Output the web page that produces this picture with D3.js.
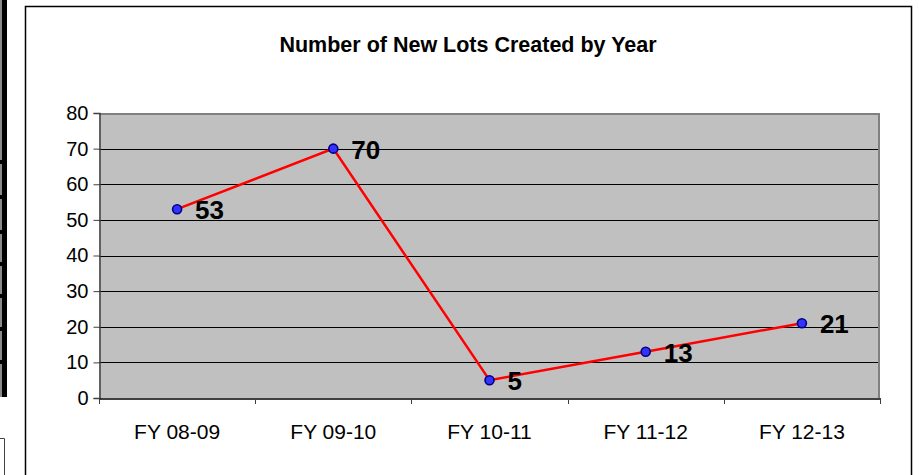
<!DOCTYPE html>
<html>
<head>
<meta charset="utf-8">
<script src="https://cdn.jsdelivr.net/npm/d3@7"></script>
<style>
  body { margin: 0; background: #fff; }
  text { font-family: "Liberation Sans", Arial, sans-serif; }
</style>
</head>
<body>
<div class="chart"></div>
<script>
// chart data
var years = ["FY 08-09", "FY 09-10", "FY 10-11", "FY 11-12", "FY 12-13"];
var lots = [53, 70, 5, 13, 21];
var yTicks = [0, 10, 20, 30, 40, 50, 60, 70, 80];

var svgWidth = 919;
var svgHeight = 475;

// plot area inside the frame
var margin = { top: 113, right: 39, bottom: 77, left: 99 };
var width = svgWidth - margin.left - margin.right;
var height = svgHeight - margin.top - margin.bottom;

var svg = d3.select(".chart")
  .append("svg")
  .attr("width", svgWidth)
  .attr("height", svgHeight);

// leftover page edge on the left
svg.append("rect").attr("x", 0).attr("y", 0).attr("width", 3).attr("height", 397).attr("fill", "#8a8a8a");
svg.append("rect").attr("x", 2).attr("y", 0).attr("width", 5).attr("height", 397).attr("fill", "#000");
[160, 195, 230, 262, 294, 327, 360].forEach(function(yy) {
  svg.append("rect").attr("x", 0).attr("y", yy).attr("width", 3).attr("height", 4).attr("fill", "#000");
});
svg.append("path").attr("d", "M0,438.5 H4.5 V475").attr("fill", "none").attr("stroke", "#444").attr("stroke-width", 1);

// chart frame
svg.append("path")
  .attr("d", "M25.5,480 V6.5 H911.5 V480")
  .attr("fill", "none")
  .attr("stroke", "#000")
  .attr("stroke-width", 1.5);

// title
svg.append("text")
  .attr("x", 468)
  .attr("y", 52)
  .attr("text-anchor", "middle")
  .style("font-size", "21.5px")
  .style("font-weight", "bold")
  .text("Number of New Lots Created by Year");

var chartGroup = svg.append("g")
  .attr("transform", `translate(${margin.left}, ${margin.top})`);

var xBand = d3.scaleBand()
  .domain(years)
  .range([0, width]);

var yLinearScale = d3.scaleLinear()
  .domain([0, 80])
  .range([height, 0]);

// plot background
chartGroup.append("rect")
  .attr("width", width)
  .attr("height", height)
  .attr("fill", "#c0c0c0");

// gridlines
chartGroup.selectAll("line.grid")
  .data(yTicks.filter(d => d > 0 && d < 80))
  .enter()
  .append("line")
  .attr("class", "grid")
  .attr("x1", 0)
  .attr("x2", width)
  .attr("y1", d => Math.round(yLinearScale(d)) + 0.5)
  .attr("y2", d => Math.round(yLinearScale(d)) + 0.5)
  .attr("stroke", "#000")
  .attr("stroke-width", 1);

// top and right border of plot area
chartGroup.append("path")
  .attr("d", `M0,${yLinearScale(80) + 1} H${width - 1} V${height}`)
  .attr("fill", "none")
  .attr("stroke", "#808080")
  .attr("stroke-width", 2);

// y axis
var leftAxis = d3.axisLeft(yLinearScale)
  .tickValues(yTicks)
  .tickSize(6)
  .tickPadding(5);

var yAxis = chartGroup.append("g")
  .attr("transform", "translate(0.5, 0)")
  .call(leftAxis);
yAxis.select(".domain").attr("stroke", "#404040").attr("stroke-width", 1.5);
yAxis.selectAll(".tick line").attr("stroke", "#404040");
yAxis.selectAll("text")
  .style("font-size", "20px")
  .style("font-family", "Liberation Sans, Arial, sans-serif")
  .attr("fill", "#000");

// x axis with ticks at category boundaries
var bottomAxis = d3.axisBottom(xBand).tickSize(0).tickPadding(26);
var xAxis = chartGroup.append("g")
  .attr("transform", `translate(0, ${height + 0.5})`)
  .call(bottomAxis);
xAxis.select(".domain").attr("stroke", "#000").attr("stroke-width", 1.5);
xAxis.selectAll("text")
  .style("font-size", "21px")
  .style("font-family", "Liberation Sans, Arial, sans-serif")
  .attr("fill", "#000");

chartGroup.selectAll("line.xtick")
  .data(d3.range(years.length + 1))
  .enter()
  .append("line")
  .attr("class", "xtick")
  .attr("x1", i => Math.round(i * xBand.step()) + 0.5)
  .attr("x2", i => Math.round(i * xBand.step()) + 0.5)
  .attr("y1", height)
  .attr("y2", height + 6)
  .attr("stroke", "#404040");

var points = years.map((y, i) => ({ year: y, value: lots[i] }));
var xPos = d => xBand(d.year) + xBand.bandwidth() / 2;

// line
var line = d3.line()
  .x(xPos)
  .y(d => yLinearScale(d.value));

chartGroup.append("path")
  .datum(points)
  .attr("d", line)
  .attr("fill", "none")
  .attr("stroke", "#ff0000")
  .attr("stroke-width", 2.5);

// markers
chartGroup.selectAll("circle")
  .data(points)
  .enter()
  .append("circle")
  .attr("cx", xPos)
  .attr("cy", d => yLinearScale(d.value))
  .attr("r", 4.5)
  .attr("fill", "#3333ff")
  .attr("stroke", "#000080")
  .attr("stroke-width", 1.6);

// value labels
chartGroup.selectAll("text.values")
  .data(points)
  .enter()
  .append("text")
  .attr("class", "values")
  .attr("x", d => xPos(d) + 18)
  .attr("y", d => yLinearScale(d.value) + 10)
  .style("font-size", "26px")
  .style("font-weight", "bold")
  .text(d => d.value);
</script>
</body>
</html>
